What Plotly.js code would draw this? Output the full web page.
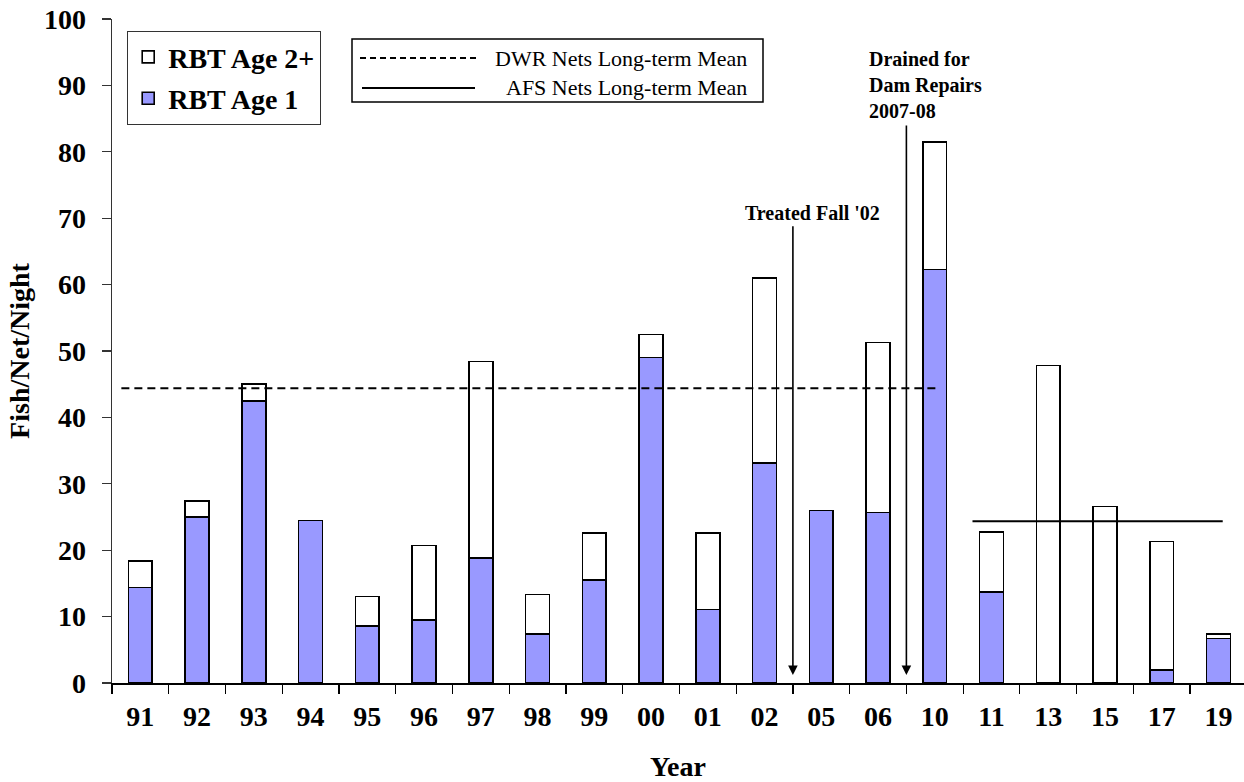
<!DOCTYPE html>
<html>
<head>
<meta charset="utf-8">
<script src="https://cdn.plot.ly/plotly-3.0.1.min.js"></script>
<style>html,body{margin:0;padding:0;background:#fff;}#chart{width:1244px;height:782px;}</style>
</head>
<body>
<div id="chart"></div>
<script>
// ---- data ----
const years = ['91','92','93','94','95','96','97','98','99','00','01','02','05','06','10','11','13','15','17','19'];
const age1 =  [14.4, 25.0, 42.5, 24.5, 8.6, 9.5, 18.8, 7.4, 15.5, 49.0, 11.1, 33.1, 26.0, 25.7, 62.3, 13.7, 0.0, 0.0, 2.0, 6.7];
const age2p = [4.0, 2.4, 2.5, 0.0, 4.4, 11.2, 29.6, 5.9, 7.1, 3.5, 11.5, 27.9, 0.0, 25.6, 19.2, 9.0, 47.8, 26.6, 19.3, 0.7];
const dwrMean = 44.4;   const dwrYears = ['91','10'];
const afsMean = 24.35;  const afsYears = ['11','19'];
const events = [
  {text:"Treated Fall '02", between:['02','05'], top:69.0},
  {text:"Drained for<br>Dam Repairs<br>2007-08", between:['06','10'], top:84.2}
];
const seriesNames = ['RBT Age 1','RBT Age 2+'];
const lineNames = ['DWR Nets Long-term Mean','AFS Nets Long-term Mean'];

// ---- layout helpers ----
const W = 1244, H = 782, M = {l:112, r:0, t:19, b:99};
const pw = W - M.l - M.r, ph = H - M.t - M.b;
const px = x => (x - M.l) / pw;
const py = y => 1 - (y - M.t) / ph;
const FONT = 'Liberation Serif, Times New Roman, serif';
const idx = y => years.indexOf(y);

const traces = [
  {type:'bar', x:years, y:age1, name:seriesNames[0], legendgroup:'a', legendrank:2,
   marker:{color:'#9999FF', line:{color:'#000', width:1.6}}, xaxis:'x', yaxis:'y'},
  {type:'bar', x:years, y:age2p, name:seriesNames[1], legendgroup:'b', legendrank:1,
   marker:{color:'#FFFFFF', line:{color:'#000', width:1.6}}, xaxis:'x', yaxis:'y'},
  {type:'scatter', mode:'lines', name:lineNames[0], showlegend:false,
   x:[idx(dwrYears[0]) - 0.335, idx(dwrYears[1]) + 0.075], y:[dwrMean, dwrMean],
   line:{color:'#000', width:2, dash:'8px,5px'}, xaxis:'x2', yaxis:'y'},
  {type:'scatter', mode:'lines', name:lineNames[1], showlegend:false,
   x:[idx(afsYears[0]) - 0.335, idx(afsYears[1]) + 0.075], y:[afsMean, afsMean],
   line:{color:'#000', width:2}, xaxis:'x2', yaxis:'y'}
];

const annotations = [];
events.forEach((e,i) => {
  const xb = (idx(e.between[0]) + idx(e.between[1])) / 2;
  annotations.push({xref:'x2', yref:'y', x:xb, y:1.2, ax:xb, ay:e.top, axref:'x2', ayref:'y',
    text:'', showarrow:true, arrowhead:2, arrowsize:1.2, arrowwidth:1.6, arrowcolor:'#000', standoff:0, startstandoff:0});
});
annotations.push({xref:'x2', yref:'y', x:11.85, y:70.8, text:events[0].text, showarrow:false,
  xanchor:'center', yanchor:'middle', font:{family:FONT, size:20, color:'#000', weight:'bold'}});
annotations.push({xref:'x2', yref:'y', x:12.80, y:90.1, text:events[1].text, showarrow:false, align:'left',
  xanchor:'left', yanchor:'middle', font:{family:FONT, size:20, color:'#000', weight:'bold'}});
// manual line legend
annotations.push({xref:'paper', yref:'paper', x:px(749), y:py(59), text:lineNames[0], showarrow:false,
  xanchor:'right', yanchor:'middle', font:{family:FONT, size:22, color:'#000'}});
annotations.push({xref:'paper', yref:'paper', x:px(749), y:py(88), text:lineNames[1], showarrow:false,
  xanchor:'right', yanchor:'middle', font:{family:FONT, size:22, color:'#000'}});

const shapes = [
  {type:'rect', xref:'paper', yref:'paper', x0:px(352), x1:px(763), y0:py(102), y1:py(39),
   line:{color:'#000', width:1.5}, fillcolor:'#fff', layer:'above'},
  {type:'line', xref:'paper', yref:'paper', x0:px(360), x1:px(479), y0:py(58), y1:py(58),
   line:{color:'#000', width:1.8, dash:'6px,4px'}},
  {type:'line', xref:'paper', yref:'paper', x0:px(362), x1:px(475), y0:py(88), y1:py(88),
   line:{color:'#000', width:1.8}}
];

const tickFont = {family:FONT, size:28, color:'#000', weight:'bold'};
const layout = {
  width:W, height:H, margin:M, paper_bgcolor:'#fff', plot_bgcolor:'#fff',
  barmode:'stack', bargap:0.58, showlegend:true,
  legend:{x:px(127), y:py(31), xanchor:'left', yanchor:'top', traceorder:'grouped', tracegroupgap:2,
    bgcolor:'#fff', bordercolor:'#333', borderwidth:1.2, font:{family:FONT, size:28, color:'#000', weight:'bold'}},
  xaxis:{type:'category', range:[-0.5, 19.45], autorange:false, tickson:'boundaries', ticks:'outside', ticklen:9,
    tickwidth:1.2, tickcolor:'#000', showline:true, linecolor:'#000', linewidth:1.5, showgrid:false, zeroline:false,
    tickfont:tickFont, ticklabelstandoff:8,
    title:{text:'Year', font:tickFont, standoff:26}},
  xaxis2:{overlaying:'x', range:[-0.5, 19.45], autorange:false, visible:false},
  yaxis:{range:[0,100], autorange:false, dtick:10, ticks:'outside', ticklen:9, tickwidth:1.2, tickcolor:'#333',
    showline:true, linecolor:'#333', linewidth:1.5, showgrid:false, zeroline:false, tickfont:tickFont,
    ticklabelstandoff:10, title:{text:'Fish/Net/Night', font:tickFont, standoff:6}},
  annotations:annotations, shapes:shapes
};
Plotly.newPlot('chart', traces, layout, {displayModeBar:false, staticPlot:true});
</script>
</body>
</html>
